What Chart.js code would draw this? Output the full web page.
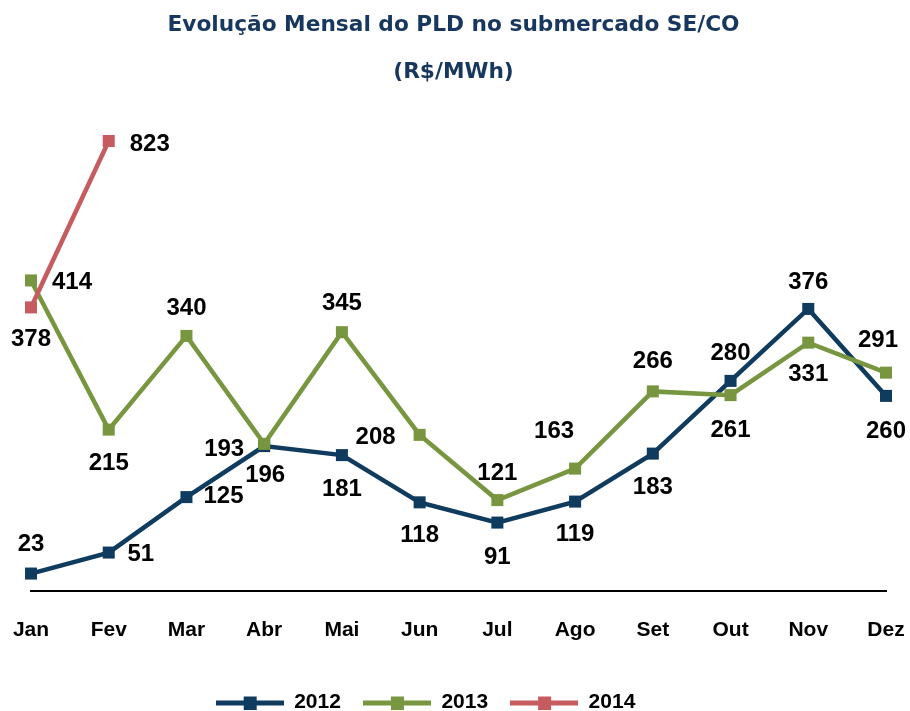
<!DOCTYPE html>
<html>
<head>
<meta charset="utf-8">
<script src="https://cdn.jsdelivr.net/npm/chart.js@4/dist/chart.umd.min.js"></script>
<style>
  html, body { margin: 0; padding: 0; background: #ffffff; }
  #wrap { width: 910px; height: 711px; }
</style>
</head>
<body>
<div id="wrap"><canvas id="c" width="910" height="711"></canvas></div>
<script>
// ---- data ----
const months = ['Jan','Fev','Mar','Abr','Mai','Jun','Jul','Ago','Set','Out','Nov','Dez'];
const pld2012 = [23, 51, 125, 193, 181, 118, 91, 119, 183, 280, 376, 260];
const pld2013 = [414, 215, 340, 196, 345, 208, 121, 163, 266, 261, 331, 291];
const pld2014 = [378, 823];
const seriesNames = ['2012', '2013', '2014'];
const yMax = 600; // axis maximum of the original chart (values above are drawn at the top edge)

// ---- styles ----
const colors = ['#0f3b5f', '#77963f', '#c65b60'];
// label offsets (label centre relative to its point), px
const offs2012 = [[0,-29],[32,2],[37,-1],[-40,3],[0,34],[0,33],[0,35],[0,33],[0,34],[0,-28],[0,-27],[0,35]];
const offs2013 = [[41,2],[0,34],[0,-28],[1,32],[0,-29],[-44,3],[0,-27],[-21,-37],[0,-30],[0,35],[0,32],[-8,-32]];
const offs2014 = [[0,32],[41,3]];
const legendShift = -33;
const titleShift = -5;

function legendIcon(color) {
  const cv = document.createElement('canvas');
  cv.width = 68; cv.height = 14;
  const g = cv.getContext('2d');
  g.fillStyle = color;
  g.fillRect(0, 5, 68, 5);
  g.fillRect(28, 1, 13, 13);
  return cv;
}

const raw = [pld2012, pld2013, pld2014];
const offs = [offs2012, offs2013, offs2014];

const labelPlugin = {
  id: 'valueLabels',
  afterLayout(chart) {
    if (chart.legend) {
      chart.legend.left += legendShift;
      chart.legend.right += legendShift;
    }
    if (chart.titleBlock) {
      chart.titleBlock.left += titleShift;
      chart.titleBlock.right += titleShift;
    }
  },
  afterDatasetsDraw(chart) {
    const ctx = chart.ctx;
    ctx.save();
    ctx.font = 'bold 24px "Liberation Sans", Arial, sans-serif';
    ctx.fillStyle = '#000000';
    ctx.textAlign = 'center';
    ctx.textBaseline = 'middle';
    chart.data.datasets.forEach((ds, di) => {
      const meta = chart.getDatasetMeta(di);
      meta.data.forEach((pt, i) => {
        const o = offs[di][i] || [0, -29];
        ctx.fillText(String(raw[di][i]), pt.x + o[0], pt.y + o[1]);
      });
    });
    ctx.restore();
  }
};

Chart.defaults.font.family = '"Liberation Sans", Arial, sans-serif';

const datasets = raw.map((vals, i) => ({
  label: seriesNames[i],
  data: vals.map(v => Math.min(v, yMax)),
  borderColor: colors[i],
  backgroundColor: colors[i],
  borderWidth: 4.5,
  pointStyle: 'rect',
  pointRadius: 8.5,
  pointHoverRadius: 8.5,
  pointBackgroundColor: colors[i],
  pointBorderColor: colors[i],
  pointBorderWidth: 0,
  tension: 0,
  clip: false,
  order: 3 - i
}));

new Chart(document.getElementById('c'), {
  type: 'line',
  data: { labels: months, datasets: datasets },
  plugins: [labelPlugin],
  options: {
    responsive: false,
    animation: false,
    layout: { padding: { left: 31, right: 24, top: 0, bottom: -12 } },
    plugins: {
      tooltip: { enabled: false },
      title: {
        display: true,
        text: ['Evolução Mensal do PLD no submercado SE/CO', '(R$/MWh)'],
        color: '#17375e',
        font: { family: '"DejaVu Sans", sans-serif', size: 21.7, weight: 'bold', lineHeight: '47px' },
        padding: { top: 2, bottom: 45 }
      },
      legend: {
        position: 'bottom',
        labels: {
          usePointStyle: true,
          pointStyleWidth: 68,
          padding: 22,
          color: '#000000',
          font: { size: 21, weight: 'bold' },
          sort: (a, b) => a.datasetIndex - b.datasetIndex,
          generateLabels: (chart) => chart.data.datasets.map((ds, i) => ({
            text: ds.label,
            pointStyle: legendIcon(colors[i]),
            fillStyle: colors[i],
            strokeStyle: colors[i],
            lineWidth: 0,
            fontColor: '#000000',
            datasetIndex: i,
            hidden: false
          }))
        }
      }
    },
    scales: {
      x: {
        offset: false,
        grid: { display: false, drawTicks: false },
        border: { display: true, color: '#000000', width: 2 },
        ticks: { color: '#000000', font: { size: 21, weight: 'bold' }, padding: 27, maxRotation: 0, autoSkip: false },
        afterFit: (scale) => { scale.paddingLeft = 0; scale.paddingRight = 0; }
      },
      y: {
        display: false,
        min: 0,
        max: yMax
      }
    }
  }
});
</script>
</body>
</html>
